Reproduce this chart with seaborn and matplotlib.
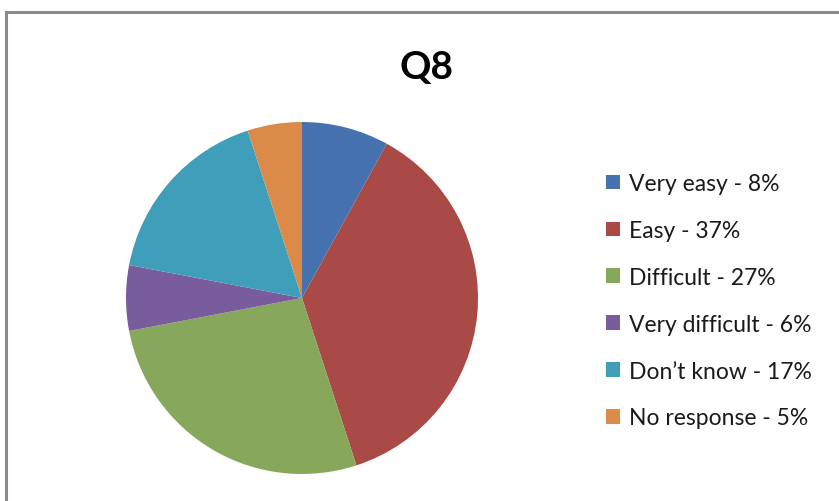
import matplotlib
matplotlib.use("Agg")
import matplotlib.pyplot as plt
from matplotlib.patches import Rectangle, Patch
import seaborn as sns

# Survey responses for question 8
categories = ["Very easy", "Easy", "Difficult", "Very difficult", "Don\u2019t know", "No response"]
percentages = [8, 37, 27, 6, 17, 5]
colors = ["#4672B0", "#A94A47", "#87A85A", "#785C9C", "#3F9EB9", "#DB8A47"]
title = "Q8"

sns.set_theme(style="white")
plt.rcParams["font.family"] = ["Lato", "DejaVu Sans"]

fig = plt.figure(figsize=(8.39, 5.02), dpi=100)
fig.patch.set_facecolor("white")

# Chart-area frame (runs off the right and bottom edges)
fig.patches.append(Rectangle((6 / 839, -0.05), 1.0, (502 - 13) / 502 + 0.05,
                             transform=fig.transFigure, fill=False,
                             edgecolor="#8a8a8a", linewidth=2.2, zorder=0))

ax = fig.add_axes([126 / 839, 27 / 502, 352 / 839, 352 / 502])
wedges, _ = ax.pie(percentages, colors=colors, startangle=90, counterclock=False,
                   wedgeprops=dict(linewidth=0))
ax.set_xlim(-1, 1)
ax.set_ylim(-1, 1)
ax.set_aspect("equal")
ax.axis("off")

fig.text(426 / 839, 1 - 67 / 502, title, ha="center", va="center",
         fontsize=28, fontweight="bold", color="black")

labels = [f"{c} - {p}%" for c, p in zip(categories, percentages)]
handles = [Patch(facecolor=col, edgecolor="none") for col in colors]
fig.legend(handles, labels, loc="upper left", bbox_to_anchor=(606 / 839, 1 - 174 / 502),
           frameon=False, fontsize=16.5, handlelength=0.6, handleheight=0.6,
           handletextpad=0.42, labelspacing=1.13, borderpad=0, borderaxespad=0,
           labelcolor="#1a1a1a")

fig.savefig("out.png", dpi=100, facecolor="white")
